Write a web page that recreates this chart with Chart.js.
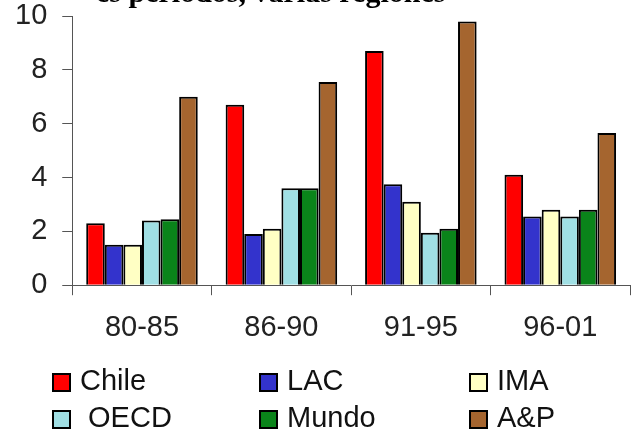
<!DOCTYPE html>
<html>
<head>
<meta charset="utf-8">
<script src="https://cdn.jsdelivr.net/npm/chart.js@4/dist/chart.umd.min.js"></script>
<style>
  html, body { margin: 0; padding: 0; background: #fff; }
  #wrap { width: 634px; height: 432px; position: relative; }
</style>
</head>
<body>
<div id="wrap"><canvas id="c" width="634" height="432"></canvas></div>
<script>
// Periods on the x axis
const periods = ['80-85', '86-90', '91-95', '96-01'];

// Series names (legend order)
const seriesNames = ['Chile', 'LAC', 'IMA', ' OECD', 'Mundo', 'A&P'];

// Growth values per period, one array per region
const chile = [2.3, 6.7, 8.7, 4.1];
const lac   = [1.5, 1.9, 3.75, 2.55];
const ima   = [1.5, 2.1, 3.1, 2.8];
const oecd  = [2.4, 3.6, 1.95, 2.55];
const mundo = [2.45, 3.6, 2.1, 2.8];
const ap    = [7.0, 7.55, 9.8, 5.65];

// Value axis
const yMin = 0, yMax = 10, yStep = 2;

// Heading line (only its lower part fits on the canvas)
const headingText = 'es periodos, varias regiones';

const seriesValues = [chile, lac, ima, oecd, mundo, ap];
const seriesColors = ['#ff0000', '#3333cc', '#ffffc4', '#a0dfe4', '#0a841a', '#a5652f'];

const LABEL_FONT = { family: '"Liberation Sans", Arial, sans-serif', size: 29 };
const AXIS_COLOR = '#555';

const headingAndLegend = {
  id: 'headingAndLegend',
  afterDraw(chart) {
    const ctx = chart.ctx;
    ctx.save();
    // heading, clipped by the top of the canvas
    ctx.fillStyle = '#000';
    ctx.font = 'bold 30px "Liberation Serif", "Times New Roman", serif';
    ctx.textBaseline = 'alphabetic';
    ctx.textAlign = 'left';
    ctx.fillText(headingText, 96, 2);

    // legend: 3 columns x 2 rows
    const colX = [52, 259, 469];
    const rowBase = [390, 427];
    const box = 19;
    ctx.font = '29px "Liberation Sans", Arial, sans-serif';
    chart.data.datasets.forEach((ds, i) => {
      const col = i % 3, row = Math.floor(i / 3);
      const bx = colX[col];
      const by = rowBase[row] - 17;
      ctx.fillStyle = ds.backgroundColor;
      ctx.fillRect(bx, by, box, box);
      ctx.lineWidth = 2;
      ctx.strokeStyle = '#000';
      ctx.strokeRect(bx + 1, by + 1, box - 2, box - 2);
      ctx.fillStyle = '#111';
      ctx.fillText(ds.label, bx + 28, rowBase[row]);
    });
    ctx.restore();
  }
};

new Chart(document.getElementById('c'), {
  type: 'bar',
  data: {
    labels: periods,
    datasets: seriesNames.map((name, i) => ({
      label: name,
      data: seriesValues[i],
      backgroundColor: seriesColors[i],
      borderColor: '#000',
      borderWidth: 2,
      categoryPercentage: 0.8,
      barPercentage: 1.0
    }))
  },
  options: {
    responsive: false,
    animation: false,
    devicePixelRatio: 1,
    layout: { padding: { left: 0, right: 4, top: 16, bottom: 72 } },
    plugins: {
      legend: { display: false },
      title: { display: false },
      tooltip: { enabled: false }
    },
    scales: {
      x: {
        grid: { drawOnChartArea: false, drawTicks: true, tickLength: 10, color: AXIS_COLOR, offset: true },
        border: { display: true, color: AXIS_COLOR, width: 1 },
        ticks: { font: LABEL_FONT, color: '#222', padding: 15, maxRotation: 0 }
      },
      y: {
        min: yMin,
        max: yMax,
        grid: { drawOnChartArea: false, drawTicks: true, tickLength: 10, color: AXIS_COLOR },
        border: { display: true, color: AXIS_COLOR, width: 1 },
        ticks: { stepSize: yStep, font: LABEL_FONT, color: '#222', padding: 15 },
        afterFit(scale) { scale.paddingTop = 0; scale.paddingBottom = 0; }
      }
    }
  },
  plugins: [headingAndLegend]
});
</script>
</body>
</html>
